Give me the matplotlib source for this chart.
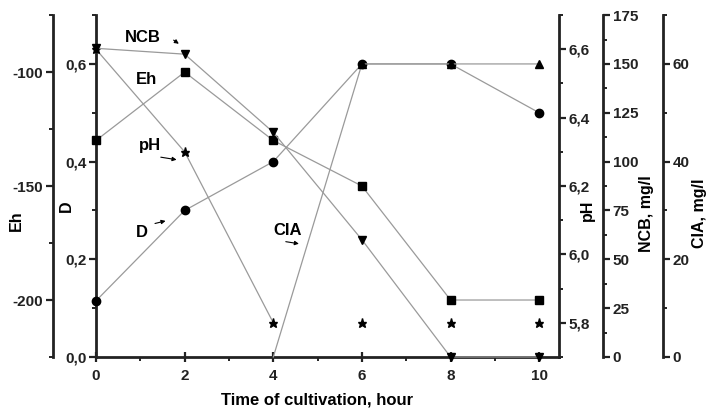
import matplotlib
matplotlib.use('Agg')
import matplotlib.pyplot as plt
from matplotlib.ticker import MultipleLocator, FuncFormatter

# data
hours = [0, 2, 4, 6, 8, 10]
eh = [-130, -100, -130, -150, -200, -200]
d = [0.115, 0.30, 0.40, 0.60, 0.60, 0.50]
ph = [6.6, 6.3, 5.8, 5.8, 5.8, 5.8]
ncb = [158, 155, 115, 60, 0, 0]
cia_hours = [4, 6, 8, 10]
cia = [0, 60, 60, 60]

plt.rcParams['font.family'] = ['Liberation Sans', 'DejaVu Sans']
plt.rcParams['font.weight'] = 'bold'
plt.rcParams['axes.unicode_minus'] = False

fig = plt.figure(figsize=(7.06, 4.08), dpi=100)
ax = fig.add_axes([0.136, 0.125, 0.656, 0.838])

spc = '#222222'
lc = '#9a9a9a'
tsize = 11
lsize = 11.5
comma = FuncFormatter(lambda v, p: f"{v:.1f}".replace('.', ','))


def style(a, side, lo, hi, major, minor, fmt=None):
    a.set_ylim(lo, hi)
    a.yaxis.set_major_locator(MultipleLocator(major))
    a.yaxis.set_minor_locator(MultipleLocator(minor))
    if fmt is not None:
        a.yaxis.set_major_formatter(fmt)
    a.tick_params(axis='y', which='major', direction='out', length=5, width=1.6,
                  colors=spc, labelsize=tsize, pad=2)
    a.tick_params(axis='y', which='minor', direction='out', length=3, width=1.4, colors=spc)
    for s in a.spines.values():
        s.set_visible(False)
    a.spines[side].set_visible(True)
    a.spines[side].set_linewidth(2)
    a.spines[side].set_color(spc)


# host axes: D
style(ax, 'left', 0, 0.7, 0.2, 0.1, comma)
ax.spines['bottom'].set_visible(True)
ax.spines['bottom'].set_linewidth(2)
ax.spines['bottom'].set_color(spc)
ax.set_xlim(0, 10.45)
ax.xaxis.set_major_locator(MultipleLocator(2))
ax.xaxis.set_minor_locator(MultipleLocator(1))
ax.tick_params(axis='x', which='major', direction='inout', length=7, width=1.6,
               colors=spc, labelsize=tsize, pad=5)
ax.tick_params(axis='x', which='minor', direction='out', length=3, width=1.4, colors=spc)
ax.set_ylabel('D', fontsize=lsize, fontweight='bold')
ax.yaxis.set_label_coords(-0.048, 0.44)
ax.set_xlabel('Time of cultivation, hour', fontsize=12, fontweight='bold')
ax.xaxis.set_label_coords(0.477, -0.105)

# Eh axis
ax_eh = ax.twinx()
ax_eh.yaxis.set_ticks_position('left')
ax_eh.yaxis.set_label_position('left')
style(ax_eh, 'left', -225, -75, 50, 25)
ax_eh.spines['left'].set_position(('outward', 31))
ax_eh.set_ylabel('Eh', fontsize=lsize, fontweight='bold')
ax_eh.yaxis.set_label_coords(-0.155, 0.40)

# pH axis
ax_ph = ax.twinx()
style(ax_ph, 'right', 5.7, 6.7, 0.2, 0.1, comma)
ax_ph.set_ylabel('pH', fontsize=lsize, fontweight='bold')
ax_ph.yaxis.set_label_coords(1.045, 0.43)

# NCB axis
ax_ncb = ax.twinx()
style(ax_ncb, 'right', 0, 175, 25, 12.5)
ax_ncb.spines['right'].set_position(('outward', 31.5))
ax_ncb.set_ylabel('NCB, mg/l', fontsize=lsize, fontweight='bold')
ax_ncb.yaxis.set_label_coords(1.173, 0.42)

# CIA axis
ax_cia = ax.twinx()
style(ax_cia, 'right', 0, 70, 20, 10)
ax_cia.spines['right'].set_position(('outward', 74.5))
ax_cia.set_ylabel('CIA, mg/l', fontsize=lsize, fontweight='bold')
ax_cia.yaxis.set_label_coords(1.287, 0.42)

for a in (ax_eh, ax_ph, ax_ncb, ax_cia):
    a.set_xlim(0, 10.45)

kw = dict(color=lc, lw=0.9, clip_on=False, zorder=3)
mk = dict(color='k', linestyle='none', clip_on=False, zorder=4)

ax_eh.plot(hours, eh, **kw)
ax_eh.plot(hours, eh, marker='s', ms=5.5, **mk)

ax.plot(hours, d, **kw)
ax.plot(hours, d, marker='o', ms=6, **mk)

ax_ph.plot(hours[:3], ph[:3], **kw)
ax_ph.plot(hours, ph, marker='*', ms=6.5, **mk)

ax_ncb.plot(hours, ncb, **kw)
ax_ncb.plot(hours, ncb, marker='v', ms=5.5, **mk)

ax_cia.plot(cia_hours, cia, **kw)
ax_cia.plot(cia_hours[1:], cia[1:], marker='^', ms=5.5, **mk)

# series labels with small arrows (host D coordinates)
tkw = dict(fontsize=12, fontweight='bold', ha='center', va='center', zorder=6)
akw = dict(arrowstyle='-|>', lw=0.8, color='k', mutation_scale=6)
ax.text(1.06, 0.655, 'NCB', **tkw)
ax.annotate('', xy=(1.92, 0.638), xytext=(1.70, 0.652), arrowprops=akw)
ax.text(1.15, 0.568, 'Eh', **tkw)
ax.text(1.22, 0.432, 'pH', **tkw)
ax.annotate('', xy=(1.88, 0.403), xytext=(1.40, 0.410), arrowprops=akw)
ax.text(1.04, 0.254, 'D', **tkw)
ax.annotate('', xy=(1.63, 0.280), xytext=(1.27, 0.272), arrowprops=akw)
ax.text(4.32, 0.258, 'CIA', **tkw)
ax.annotate('', xy=(4.64, 0.231), xytext=(4.22, 0.237), arrowprops=akw)

fig.savefig('out.png', dpi=100)
